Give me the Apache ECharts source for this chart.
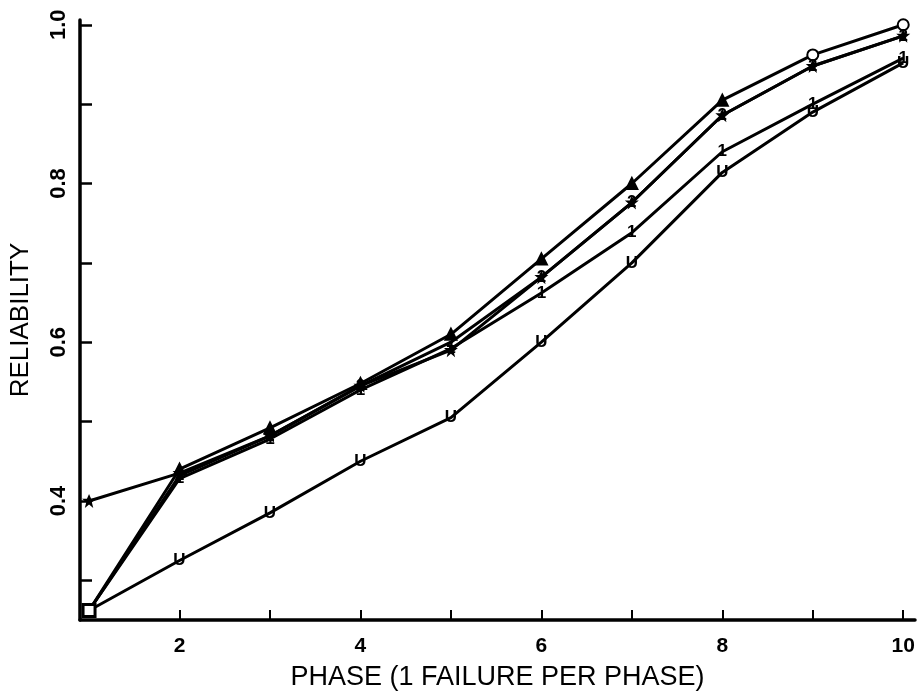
<!DOCTYPE html>
<html>
<head>
<meta charset="utf-8">
<script src="https://cdn.jsdelivr.net/npm/echarts@6/dist/echarts.min.js"></script>
<style>
  html, body { margin: 0; padding: 0; background: #fff; }
  #chart { width: 921px; height: 696px; }
</style>
</head>
<body>
<div id="chart"></div>
<script>
// phase numbers and reliability readings
const phases = [1, 2, 3, 4, 5, 6, 7, 8, 9, 10]
const starSeries = [0.40, 0.435, 0.482, 0.545, 0.59, 0.682, 0.776, 0.886, 0.948, 0.986]
const triSeries = [0.262, 0.44, 0.492, 0.548, 0.61, 0.705, 0.80, 0.905, 0.962, 1.0]
const twoSeries = [0.262, 0.432, 0.482, 0.545, 0.60, 0.682, 0.776, 0.886, 0.948, 0.986]
const oneSeries = [0.262, 0.428, 0.478, 0.54, 0.592, 0.662, 0.738, 0.84, 0.90, 0.958]
const uSeries = [0.262, 0.325, 0.385, 0.45, 0.505, 0.60, 0.70, 0.814, 0.89, 0.952]

const xTicks = [2, 3, 4, 5, 6, 7, 8, 9, 10]
const xLabels = [2, 4, 6, 8, 10]
const yTicks = [0.3, 0.4, 0.5, 0.6, 0.7, 0.8, 0.9, 1.0]
const yLabels = [0.4, 0.6, 0.8, 1.0]

const pairs = (ys) => phases.map((x, i) => [x, ys[i]])

const STAR = 'path://M0,-10 L3,-3 L10,-3 L4,2 L6,10 L0,5 L-6,10 L-4,2 L-10,-3 L-3,-3 Z'

// markers drawn as text for the "1", "2", "U" curves
function textSeries(name, ys, ch) {
  return {
    type: 'line',
    name,
    data: pairs(ys),
    symbol: 'circle',
    symbolSize: 1,
    itemStyle: { color: 'rgba(0,0,0,0)' },
    lineStyle: { color: '#000', width: 3 },
    label: {
      show: true,
      position: 'inside',
      formatter: () => ch,
      color: '#000',
      fontSize: 17,
      fontWeight: 'bold',
      fontFamily: 'Liberation Sans',
    },
    z: 3,
  }
}

const option = {
  animation: false,
  backgroundColor: '#fff',
  grid: { left: 80, right: 6, top: 20, bottom: 74 },
  xAxis: {
    type: 'value',
    min: 0.9,
    max: 10.13,
    name: 'PHASE (1 FAILURE PER PHASE)',
    nameLocation: 'middle',
    nameGap: 44,
    nameTextStyle: { color: '#000', fontSize: 27, fontFamily: 'Liberation Sans' },
    axisLine: { lineStyle: { color: '#000', width: 3.5 } },
    axisTick: { inside: true, length: 10, customValues: xTicks, lineStyle: { color: '#000', width: 2 } },
    axisLabel: {
      customValues: xLabels,
      margin: 16,
      color: '#000',
      fontSize: 21,
      fontWeight: 'bold',
      fontFamily: 'Liberation Sans',
    },
    splitLine: { show: false },
  },
  yAxis: {
    type: 'value',
    min: 0.25,
    max: 1.006,
    name: 'RELIABILITY',
    nameLocation: 'middle',
    nameGap: 46,
    nameRotate: 90,
    nameTextStyle: { color: '#000', fontSize: 26, fontFamily: 'Liberation Sans' },
    axisLine: { show: true, lineStyle: { color: '#000', width: 3.5 } },
    axisTick: { show: true, inside: true, length: 12, customValues: yTicks, lineStyle: { color: '#000', width: 2.5 } },
    axisLabel: {
      customValues: yLabels,
      rotate: 90,
      margin: 10,
      color: '#000',
      fontSize: 22,
      fontWeight: 'bold',
      fontFamily: 'Liberation Sans',
      formatter: (v) => v.toFixed(1),
    },
    splitLine: { show: false },
  },
  series: [
    {
      type: 'line',
      name: 'star',
      data: pairs(starSeries),
      symbol: STAR,
      symbolSize: 14,
      itemStyle: { color: '#000' },
      lineStyle: { color: '#000', width: 3 },
    },
    {
      type: 'line',
      name: 'triangle',
      data: pairs(triSeries),
      symbol: (v, p) => (p.dataIndex >= 8 ? 'emptyCircle' : 'triangle'),
      symbolSize: 11,
      itemStyle: { color: '#000', borderColor: '#000', borderWidth: 2 },
      lineStyle: { color: '#000', width: 3 },
    },
    textSeries('2', twoSeries, '2'),
    textSeries('1', oneSeries, '1'),
    textSeries('U', uSeries, 'U'),
    {
      type: 'scatter',
      name: 'start',
      data: [[phases[0], uSeries[0]]],
      symbol: 'rect',
      symbolSize: 12,
      itemStyle: { color: '#fff', borderColor: '#000', borderWidth: 3, opacity: 1 },
      z: 4,
    },
  ],
}

const chart = echarts.init(document.getElementById('chart'), null, { renderer: 'canvas' })
chart.setOption(option)
window.addEventListener('resize', () => chart.resize())
</script>
</body>
</html>
